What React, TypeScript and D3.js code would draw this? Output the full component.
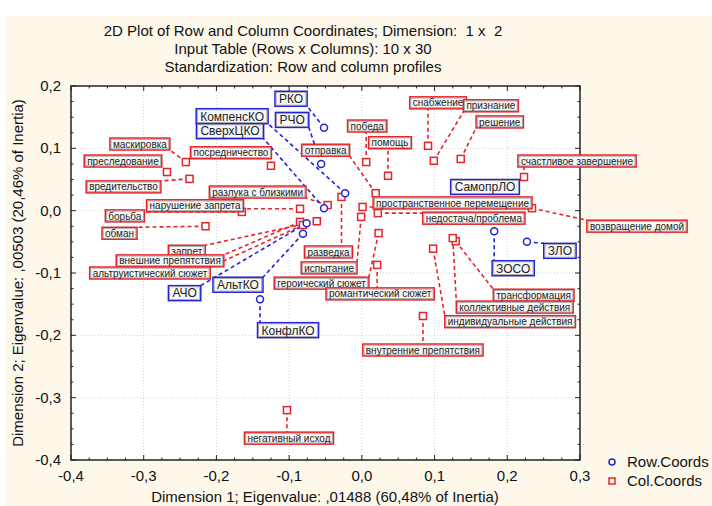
import React, { useEffect, useRef } from "react";
import * as d3 from "d3";

const titleLines = [
  "2D Plot of Row and Column Coordinates; Dimension:  1 x  2",
  "Input Table (Rows x Columns): 10 x 30",
  "Standardization: Row and column profiles",
];
const xAxisTitle = "Dimension 1; Eigenvalue: ,01488 (60,48% of Inertia)";
const yAxisTitle = "Dimension 2; Eigenvalue: ,00503 (20,46% of Inertia)";
const xTicks = [-0.4, -0.3, -0.2, -0.1, 0.0, 0.1, 0.2, 0.3];
const yTicks = [-0.4, -0.3, -0.2, -0.1, 0.0, 0.1, 0.2];
const legendNames = ["Row.Coords", "Col.Coords"];

// Row coordinates
const rowNames = ["РКО", "РЧО", "КомпенсКО", "СверхЦКО", "АЧО", "АльтКО", "КонфлКО", "СамопрЛО", "ЗОСО", "ЗЛО"];
const rowX = [-0.052, -0.056, -0.023, -0.052, -0.076, -0.081, -0.140, 0.168, 0.182, 0.227];
const rowY = [0.133, 0.075, 0.028, 0.004, -0.020, -0.037, -0.142, 0.038, -0.033, -0.050];
// label offsets (px) from point to label centre
const rowLabDX = [-33, -29, -113, -94, -122, -65, 28, 1, 19, 33];
const rowLabDY = [-29, -44, -77, -77, 70, 51, 31, 0, 37, 9];

// Column coordinates
const colNames = [
  "маскировка", "преследование", "вредительство", "посредничество", "разлука с близкими",
  "нарушение запрета", "борьба", "обман", "запрет", "внешние препятствия",
  "альтруистический сюжет", "разведка", "испытание", "героический сюжет", "романтический сюжет",
  "внутренние препятствия", "негативный исход", "отправка", "победа", "помощь",
  "снабжение", "признание", "решение", "счастливое завершение", "пространственное перемещение",
  "недостача/проблема", "возвращение домой", "трансформация", "коллективные действия", "индивидуальные действия",
];
const colX = [
  -0.242, -0.268, -0.237, -0.125, -0.047,
  -0.085, -0.165, -0.215, -0.062, -0.085,
  -0.081, -0.028, -0.001, 0.023, 0.021,
  0.084, -0.103, 0.019, 0.006, 0.036,
  0.091, 0.099, 0.136, 0.223, 0.001,
  0.022, 0.234, 0.129, 0.125, 0.098,
];
const colY = [
  0.078, 0.062, 0.051, 0.072, 0.009,
  0.003, -0.002, -0.025, -0.017, -0.018,
  -0.023, 0.022, -0.010, -0.036, -0.087,
  -0.169, -0.320, 0.028, 0.078, 0.056,
  0.104, 0.080, 0.083, 0.054, 0.006,
  -0.004, 0.004, -0.049, -0.044, -0.061,
];
const colLabDX = [
  -46, -44, -66, -40, -70,
  -105, -117, -86, -130, -130,
  -153, -13, -32, -57, 3,
  0, 2, -50, 1, 2,
  10, 57, 39, 53, 90,
  96, 105, 78, 62, 77,
];
const colLabDY = [
  -18, -11, 8, -13, -13,
  -3, 4, 7, 30, 39,
  48, 55, 51, 50, 29,
  34, 28, -43, -36, -33,
  -43, -55, -37, -16, -4,
  5, 18, 54, 69, 73,
];

const W = 712;
const H = 506;
const RED = "#e5242b";
const BLUE = "#2323d8";
const FONT = "'Liberation Sans', Arial, sans-serif";
const AXF = 15;

export default function App() {
  const ref = useRef<SVGSVGElement | null>(null);

  useEffect(() => {
    const svg = d3.select(ref.current);
    svg.selectAll("*").remove();

    const x = d3.scaleLinear().domain([-0.4, 0.3]).range([71, 580]);
    const y = d3.scaleLinear().domain([-0.4, 0.2]).range([460, 86]);
    const fmt = (v: number) => d3.format(".1f")(v).replace(".", ",").replace("−", "-");

    svg.append("rect").attr("x", 5).attr("y", 16).attr("width", W - 5).attr("height", H - 16).attr("fill", "#fdf8ea");
    svg.append("rect").attr("x", x(-0.4)).attr("y", y(0.2)).attr("width", x(0.3) - x(-0.4)).attr("height", y(-0.4) - y(0.2)).attr("fill", "#ffffff");

    // title
    titleLines.forEach((t, i) => {
      svg.append("text").attr("x", 303).attr("y", 36 + i * 18).attr("text-anchor", "middle")
        .style("white-space", "pre")
        .attr("font-family", FONT).attr("font-size", AXF).attr("fill", "#111").text(t);
    });

    // grid
    const g = svg.append("g");
    xTicks.slice(1, -1).forEach((v) => {
      g.append("line").attr("x1", x(v)).attr("x2", x(v)).attr("y1", y(0.2)).attr("y2", y(-0.4))
        .attr("stroke", "#c8c8c8").attr("stroke-width", 0.8).attr("stroke-dasharray", "1,2");
    });
    yTicks.slice(1, -1).forEach((v) => {
      g.append("line").attr("x1", x(-0.4)).attr("x2", x(0.3)).attr("y1", y(v)).attr("y2", y(v))
        .attr("stroke", "#c8c8c8").attr("stroke-width", 0.8).attr("stroke-dasharray", "1,2");
    });

    // ticks (inward), major + minor
    const ax = svg.append("g").attr("stroke", "#222").attr("stroke-width", 1);
    const xMinor = d3.range(-0.4, 0.3001, 0.025);
    xMinor.forEach((v, i) => {
      const len = i % 4 === 0 ? 5 : 2.5;
      ax.append("line").attr("x1", x(v)).attr("x2", x(v)).attr("y1", y(-0.4)).attr("y2", y(-0.4) - len);
      ax.append("line").attr("x1", x(v)).attr("x2", x(v)).attr("y1", y(0.2)).attr("y2", y(0.2) + len);
    });
    const yMinor = d3.range(-0.4, 0.2001, 0.025);
    yMinor.forEach((v, i) => {
      const len = i % 4 === 0 ? 5 : 2.5;
      ax.append("line").attr("x1", x(-0.4)).attr("x2", x(-0.4) + len).attr("y1", y(v)).attr("y2", y(v));
      ax.append("line").attr("x1", x(0.3)).attr("x2", x(0.3) - len).attr("y1", y(v)).attr("y2", y(v));
    });
    svg.append("rect").attr("x", x(-0.4)).attr("y", y(0.2)).attr("width", x(0.3) - x(-0.4)).attr("height", y(-0.4) - y(0.2))
      .attr("fill", "none").attr("stroke", "#222").attr("stroke-width", 1.5);

    xTicks.forEach((v) => {
      svg.append("text").attr("x", x(v)).attr("y", 481).attr("text-anchor", "middle")
        .attr("font-family", FONT).attr("font-size", AXF).attr("fill", "#111").text(fmt(v));
    });
    yTicks.forEach((v) => {
      svg.append("text").attr("x", 61).attr("y", y(v) + 5).attr("text-anchor", "end")
        .attr("font-family", FONT).attr("font-size", AXF).attr("fill", "#111").text(fmt(v));
    });
    svg.append("text").attr("x", 325).attr("y", 502).attr("text-anchor", "middle")
      .attr("font-family", FONT).attr("font-size", AXF).attr("fill", "#111").text(xAxisTitle);
    svg.append("text").attr("transform", `translate(23,273) rotate(-90)`).attr("text-anchor", "middle")
      .attr("font-family", FONT).attr("font-size", AXF).attr("fill", "#111").text(yAxisTitle);

    // labels: measure first
    type Lab = { px: number; py: number; cx: number; cy: number; name: string; color: string; fs: number; w?: number; h?: number };
    const labs: Lab[] = [];
    colNames.forEach((n, i) => labs.push({ px: x(colX[i]), py: y(colY[i]), cx: x(colX[i]) + colLabDX[i], cy: y(colY[i]) + colLabDY[i], name: n, color: RED, fs: 10 }));
    rowNames.forEach((n, i) => labs.push({ px: x(rowX[i]), py: y(rowY[i]), cx: x(rowX[i]) + rowLabDX[i], cy: y(rowY[i]) + rowLabDY[i], name: n, color: BLUE, fs: 12 }));

    const meas = svg.append("g");
    labs.forEach((l) => {
      const t = meas.append("text").attr("font-family", FONT).attr("font-size", l.fs).text(l.name);
      const w = (t.node() as SVGTextElement).getComputedTextLength();
      l.w = w + (l.fs === 12 ? 8 : 6);
      l.h = l.fs === 12 ? 15 : 12;
    });
    meas.remove();

    // leader lines
    const leaders = svg.append("g");
    labs.forEach((l) => {
      const x0 = l.cx - l.w! / 2, x1 = l.cx + l.w! / 2, y0 = l.cy - l.h! / 2, y1 = l.cy + l.h! / 2;
      const qx = Math.max(x0, Math.min(x1, l.px));
      const qy = Math.max(y0, Math.min(y1, l.py));
      if (Math.hypot(qx - l.px, qy - l.py) < 2) return;
      leaders.append("line").attr("x1", l.px).attr("y1", l.py).attr("x2", qx).attr("y2", qy)
        .attr("stroke", l.color).attr("stroke-width", 1.6).attr("stroke-dasharray", "4,3");
    });

    // points
    colNames.forEach((_, i) => {
      svg.append("rect").attr("x", x(colX[i]) - 3.5).attr("y", y(colY[i]) - 3.5).attr("width", 7).attr("height", 7)
        .attr("fill", "#fff").attr("stroke", RED).attr("stroke-width", 1.5);
    });
    rowNames.forEach((_, i) => {
      svg.append("circle").attr("cx", x(rowX[i])).attr("cy", y(rowY[i])).attr("r", 3.5)
        .attr("fill", "#fff").attr("stroke", BLUE).attr("stroke-width", 1.5);
    });

    // label boxes
    labs.forEach((l) => {
      const gg = svg.append("g");
      gg.append("rect").attr("x", l.cx - l.w! / 2).attr("y", l.cy - l.h! / 2).attr("width", l.w!).attr("height", l.h!)
        .attr("fill", "#f7f7f7").attr("stroke", l.color).attr("stroke-width", 1.5);
      gg.append("rect").attr("x", l.cx - l.w! / 2 + 1.2).attr("y", l.cy - l.h! / 2 + 1.2).attr("width", l.w! - 2.4).attr("height", l.h! - 2.4)
        .attr("fill", "none").attr("stroke", "#888").attr("stroke-width", 0.6);
      gg.append("text").attr("x", l.cx).attr("y", l.cy + l.fs * 0.36).attr("text-anchor", "middle")
        .attr("font-family", FONT).attr("font-size", l.fs).attr("fill", "#222").text(l.name);
    });

    // legend
    svg.append("circle").attr("cx", 612).attr("cy", 462).attr("r", 3).attr("fill", "none").attr("stroke", BLUE).attr("stroke-width", 1.5);
    svg.append("rect").attr("x", 609).attr("y", 478).attr("width", 6).attr("height", 6).attr("fill", "none").attr("stroke", RED).attr("stroke-width", 1.5);
    legendNames.forEach((n, i) => {
      svg.append("text").attr("x", 627).attr("y", 467 + i * 19).attr("font-family", FONT).attr("font-size", AXF).attr("fill", "#111").text(n);
    });
  }, []);

  return (
    <svg ref={ref} width={W} height={H} style={{ position: "absolute", left: 0, top: 0, background: "#fff" }} />
  );
}
